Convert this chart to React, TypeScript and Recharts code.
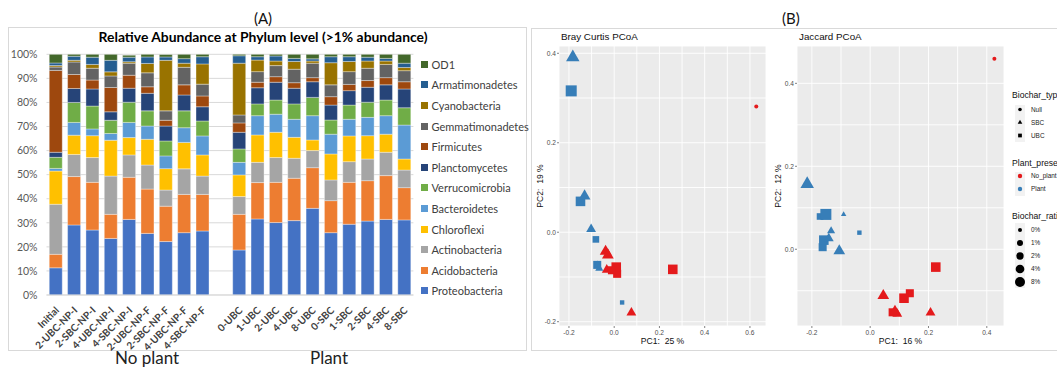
import React from 'react';
import { BarChart, Bar, XAxis, YAxis, CartesianGrid, ScatterChart, Scatter } from 'recharts';

// ---------- relative abundance (panel A) ----------
const SAMPLES = [
  'Initial', '2-UBC-NP-I', '2-SBC-NP-I', '4-UBC-NP-I', '4-SBC-NP-I',
  '2-UBC-NP-F', '2-SBC-NP-F', '4-UBC-NP-F', '4-SBC-NP-F',
  '0-UBC', '1-UBC', '2-UBC', '4-UBC', '8-UBC',
  '0-SBC', '1-SBC', '2-SBC', '4-SBC', '8-SBC',
];

const PHYLA = [
  'Proteobacteria', 'Acidobacteria', 'Actinobacteria', 'Chloroflexi',
  'Bacteroidetes', 'Verrucomicrobia', 'Planctomycetes', 'Firmicutes',
  'Gemmatimonadetes', 'Cyanobacteria', 'Armatimonadetes', 'OD1',
];

const PHYLUM_COLORS = [
  '#4472C4', '#ED7D31', '#A5A5A5', '#FFC000', '#5B9BD5', '#70AD47',
  '#264478', '#9E480E', '#636363', '#997300', '#255E91', '#43682B',
];

const proteobacteria = [11.3, 29.1, 27.0, 23.5, 31.4, 25.6, 22.2, 25.9, 26.6, 18.7, 31.6, 30.1, 30.9, 36.0, 25.9, 29.4, 30.7, 31.4, 31.2];
const acidobacteria = [5.6, 20.1, 19.8, 10.0, 17.5, 18.4, 14.7, 15.9, 15.2, 14.8, 15.1, 16.7, 17.6, 16.9, 13.3, 17.4, 16.8, 18.2, 13.4];
const actinobacteria = [20.8, 9.2, 10.3, 15.9, 9.3, 10.0, 6.7, 10.6, 7.6, 7.4, 8.4, 10.3, 8.3, 7.1, 8.6, 8.6, 9.0, 9.7, 7.3];
const chloroflexi = [13.8, 8.0, 9.1, 14.9, 7.2, 10.7, 8.9, 11.0, 8.8, 9.0, 11.4, 10.5, 8.7, 4.4, 10.8, 10.7, 9.7, 7.5, 4.6];
const bacteroidetes = [1.1, 5.3, 2.8, 2.8, 6.3, 5.5, 5.3, 6.1, 7.9, 5.2, 8.0, 7.5, 7.5, 10.1, 8.2, 6.9, 7.6, 7.7, 14.1];
const verrucomicrobia = [4.6, 8.3, 9.5, 5.5, 8.4, 6.3, 6.2, 7.0, 6.2, 5.6, 4.9, 5.9, 6.4, 7.6, 5.9, 5.9, 6.3, 6.5, 7.2];
const planctomycetes = [2.1, 5.8, 7.1, 3.5, 5.8, 7.3, 6.2, 6.6, 5.9, 6.9, 6.7, 7.4, 6.5, 6.5, 6.2, 6.0, 6.2, 6.3, 7.8];
const firmicutes = [34.0, 5.8, 3.7, 10.1, 5.4, 2.7, 2.4, 4.2, 4.5, 3.9, 2.3, 2.3, 2.3, 1.7, 3.5, 2.6, 2.8, 3.0, 3.0];
const gemmatimonadetes = [1.4, 5.2, 4.9, 4.8, 5.0, 5.8, 3.9, 7.3, 4.9, 3.3, 4.4, 4.6, 5.6, 6.0, 4.9, 5.3, 5.1, 5.5, 4.6];
const cyanobacteria = [0.6, 0.7, 1.6, 1.7, 0.6, 3.9, 21.0, 1.7, 8.4, 21.5, 4.8, 1.9, 3.2, 0.9, 9.2, 4.2, 3.0, 1.4, 1.3];
const armatimonadetes = [1.1, 1.7, 3.0, 4.8, 1.9, 2.7, 1.4, 1.9, 3.0, 3.1, 1.4, 2.1, 1.3, 0.9, 2.5, 2.0, 1.6, 1.1, 1.8];
const od1 = [3.7, 0.8, 1.4, 2.5, 0.8, 1.1, 1.0, 1.8, 1.0, 0.6, 1.0, 0.7, 1.7, 1.9, 1.0, 1.0, 1.2, 1.7, 3.7];

const ABUNDANCE = [
  proteobacteria, acidobacteria, actinobacteria, chloroflexi, bacteroidetes,
  verrucomicrobia, planctomycetes, firmicutes, gemmatimonadetes,
  cyanobacteria, armatimonadetes, od1,
];

const FIRST_PLANT_SAMPLE = 9;

// one empty slot separates the no-plant and plant groups
const barRows: any[] = [];
SAMPLES.forEach((name, i) => {
  if (i === FIRST_PLANT_SAMPLE) barRows.push({ sample: '' });
  const row: any = { sample: name };
  PHYLA.forEach((p, k) => { row[p] = ABUNDANCE[k][i]; });
  barRows.push(row);
});

const PCT_TICKS = [0, 10, 20, 30, 40, 50, 60, 70, 80, 90, 100];

// ---------- PCoA (panel B) ----------
const BIOCHAR_TYPE = ['Null', 'UBC', 'SBC', 'UBC', 'SBC', 'UBC', 'SBC', 'UBC', 'SBC', 'UBC', 'UBC', 'UBC', 'UBC', 'UBC', 'SBC', 'SBC', 'SBC', 'SBC', 'SBC'];
const PLANT_PRESENCE = ['No_plant', 'No_plant', 'No_plant', 'No_plant', 'No_plant', 'No_plant', 'No_plant', 'No_plant', 'No_plant', 'Plant', 'Plant', 'Plant', 'Plant', 'Plant', 'Plant', 'Plant', 'Plant', 'Plant', 'Plant'];
const BIOCHAR_RATIO = [0, 2, 2, 4, 4, 2, 2, 4, 4, 0, 1, 2, 4, 8, 0, 1, 2, 4, 8];

const BRAY_PC1 = [0.628, 0.013, -0.033, 0.009, -0.038, -0.010, 0.076, 0.259, -0.028, 0.035, -0.081, -0.075, -0.149, -0.190, -0.074, -0.066, -0.102, -0.131, -0.183];
const BRAY_PC2 = [0.281, -0.093, -0.084, -0.078, -0.043, -0.085, -0.180, -0.083, -0.051, -0.157, -0.016, -0.073, 0.069, 0.316, -0.070, -0.081, 0.007, 0.081, 0.391];
const JACC_PC1 = [0.426, 0.136, 0.207, 0.116, 0.045, 0.077, 0.093, 0.225, 0.085, -0.037, -0.172, -0.163, -0.159, -0.152, -0.091, -0.134, -0.142, -0.106, -0.216];
const JACC_PC2 = [0.459, -0.106, -0.153, -0.118, -0.112, -0.152, -0.156, -0.043, -0.150, 0.040, 0.079, 0.005, 0.022, 0.084, 0.084, 0.044, 0.026, -0.004, 0.157];

const PLANT_COLORS: Record<string, string> = { No_plant: '#E41A1C', Plant: '#377EB8' };
const RATIO_DIAMETER: Record<number, number> = { 0: 4, 1: 6, 2: 7.3, 4: 8.7, 8: 10 };
const RATIO_LEVELS = [0, 1, 2, 4, 8];

const pcoaRows = (pc1: number[], pc2: number[]) =>
  pc1.map((x, i) => ({
    x, y: pc2[i], type: BIOCHAR_TYPE[i], plant: PLANT_PRESENCE[i], ratio: BIOCHAR_RATIO[i],
  }));

const braySamples = pcoaRows(BRAY_PC1, BRAY_PC2);
const jaccSamples = pcoaRows(JACC_PC1, JACC_PC2);

function Marker(cx: number, cy: number, type: string, d: number, fill: string) {
  if (type === 'Null') return <circle cx={cx} cy={cy} r={d / 2} fill={fill} />;
  if (type === 'UBC') {
    const s = d * 1.1;
    return <rect x={cx - s / 2} y={cy - s / 2} width={s} height={s} fill={fill} />;
  }
  const w = d * 1.35;
  const h = w * 0.866;
  return <polygon points={`${cx},${cy - (h * 2) / 3} ${cx - w / 2},${cy + h / 3} ${cx + w / 2},${cy + h / 3}`} fill={fill} />;
}

const SamplePoint = (props: any) => {
  const { cx, cy, payload } = props;
  if (cx == null || cy == null) return null;
  return Marker(cx, cy, payload.type, RATIO_DIAMETER[payload.ratio], PLANT_COLORS[payload.plant]);
};

const SANS = '"Liberation Sans", Arial, sans-serif';
const LATO = 'Lato, "Open Sans", sans-serif';

const isMajor = (v: number) => Math.abs(Math.round(v * 10) % 2) === 0;
const fmt = (v: number) => (Math.abs(v) < 1e-9 ? '0.0' : v.toFixed(1));

const XTick = (props: any) => {
  const { x, y, payload } = props;
  if (!isMajor(payload.value)) return null;
  return (
    <g>
      <line x1={x} x2={x} y1={y} y2={y + 2} stroke="#333" strokeWidth={0.6} />
      <text x={x} y={y + 8.5} textAnchor="middle" fontSize={6.6} fill="#4D4D4D" fontFamily={SANS}>{fmt(payload.value)}</text>
    </g>
  );
};

const YTick = (props: any) => {
  const { x, y, payload } = props;
  if (!isMajor(payload.value)) return null;
  return (
    <g>
      <line x1={x - 2} x2={x} y1={y} y2={y} stroke="#333" strokeWidth={0.6} />
      <text x={x - 3} y={y + 2.3} textAnchor="end" fontSize={6.6} fill="#4D4D4D" fontFamily={SANS}>{fmt(payload.value)}</text>
    </g>
  );
};

interface PcoaProps {
  left: number;
  title: string;
  xLabel: string;
  yLabel: string;
  samples: any[];
  xDomain: [number, number];
  yDomain: [number, number];
  xTicks: number[];
  yTicks: number[];
}

const PcoaPlot: React.FC<PcoaProps> = ({ left, title, xLabel, yLabel, samples, xDomain, yDomain, xTicks, yTicks }) => (
  <div style={{ position: 'absolute', left, top: 28, width: 240, height: 322 }}>
    <ScatterChart width={240} height={322} margin={{ top: 18, right: 6, bottom: 0, left: 0 }}>
      <CartesianGrid fill="#EBEBEB" stroke="#FFFFFF" strokeWidth={0.9} />
      <XAxis type="number" dataKey="x" domain={xDomain} ticks={xTicks} interval={0} allowDataOverflow
        height={24} axisLine={false} tickLine={false} tickSize={0} tickMargin={0} tick={<XTick />} />
      <YAxis type="number" dataKey="y" domain={yDomain} ticks={yTicks} interval={0} allowDataOverflow
        width={27} axisLine={false} tickLine={false} tickSize={0} tickMargin={0} tick={<YTick />} />
      <Scatter data={samples} shape={SamplePoint} isAnimationActive={false} />
    </ScatterChart>
    <div style={{ position: 'absolute', left: 29, top: 2.5, fontSize: 9.8, fontFamily: SANS, color: '#111', whiteSpace: 'nowrap' }}>{title}</div>
    <div style={{ position: 'absolute', left: 27, width: 207, top: 308, textAlign: 'center', fontSize: 8.6, fontFamily: SANS, color: '#111', whiteSpace: 'pre' }}>{xLabel}</div>
    <div style={{ position: 'absolute', left: 8, top: 158, width: 0, height: 0 }}>
      <div style={{ position: 'absolute', transform: 'translate(-50%, -50%) rotate(-90deg)', fontSize: 8.6, fontFamily: SANS, color: '#111', whiteSpace: 'pre' }}>{yLabel}</div>
    </div>
  </div>
);

const PcoaLegend = () => {
  const lx = 5;
  const title = (y: number, t: string) => (
    <text x={2} y={y} fontSize={8.6} fontFamily={SANS} fill="#111">{t}</text>
  );
  const label = (y: number, t: string) => (
    <text x={21} y={y + 2.3} fontSize={6.4} fontFamily={SANS} fill="#222">{t}</text>
  );
  const types = ['Null', 'SBC', 'UBC'];
  const plants = ['No_plant', 'Plant'];
  return (
    <svg style={{ position: 'absolute', left: 1010, top: 80, overflow: 'visible' }} width={47} height={215}>
      {title(18, 'Biochar_type')}
      <rect x={lx} y={25} width={10} height={37} fill="#F2F2F2" />
      {types.map((t, i) => (
        <g key={t}>
          {Marker(lx + 5, 29.5 + i * 13, t, t === 'Null' ? 3.6 : 3.4, '#000')}
          {label(29.5 + i * 13, t)}
        </g>
      ))}
      {title(85.5, 'Plant_presence')}
      <rect x={lx} y={92} width={10} height={24} fill="#F2F2F2" />
      {plants.map((p, i) => (
        <g key={p}>
          <circle cx={lx + 5} cy={96 + i * 13} r={2.2} fill={PLANT_COLORS[p]} />
          {label(96 + i * 13, p)}
        </g>
      ))}
      {title(138.5, 'Biochar_ratio')}
      <rect x={lx} y={143} width={10} height={65} fill="#F2F2F2" />
      {RATIO_LEVELS.map((r, i) => (
        <g key={r}>
          <circle cx={lx + 5} cy={150 + i * 13} r={RATIO_DIAMETER[r] / 2} fill="#000" />
          {label(150 + i * 13, `${r}%`)}
        </g>
      ))}
    </svg>
  );
};

const SampleTick = (props: any) => {
  const { x, y, payload } = props;
  const ax = x + 4;
  const ay = y + 8;
  return (
    <text x={ax} y={ay} transform={`rotate(-45, ${ax}, ${ay})`} textAnchor="end"
      fontSize={10} fontWeight={700} fill="#404040" fontFamily={LATO}>{payload.value}</text>
  );
};

const App = () => {
  const legendOrder = PHYLA.map((p, i) => ({ name: p, color: PHYLUM_COLORS[i] })).reverse();
  return (
    <div style={{ position: 'absolute', left: 0, top: 0, width: 1057, height: 369, background: '#fff', overflow: 'hidden' }}>
      {/* panel A */}
      <div style={{ position: 'absolute', left: 0, top: 9, width: 526, textAlign: 'center', fontFamily: LATO, fontSize: 15, color: '#111' }}>(A)</div>
      <div style={{ position: 'absolute', left: 8, top: 27, width: 517, height: 322, border: '1px solid #D9D9D9' }} />
      <div style={{ position: 'absolute', left: 8, top: 27.5, width: 510, textAlign: 'center', fontFamily: LATO, fontSize: 13.9, fontWeight: 700, color: '#000' }}>
        Relative Abundance at Phylum level (&gt;1% abundance)
      </div>
      <div style={{ position: 'absolute', left: 8, top: 27 }}>
        <BarChart width={518} height={342} data={barRows} barCategoryGap="15%"
          margin={{ top: 27.3, right: 112.6, bottom: 0, left: 0 }}>
          <CartesianGrid vertical={false} stroke="#D9D9D9" />
          <XAxis dataKey="sample" interval={0} height={74} tickLine={false} axisLine={{ stroke: '#D9D9D9' }} tick={<SampleTick />} />
          <YAxis domain={[0, 100]} ticks={PCT_TICKS} allowDataOverflow width={38.5} axisLine={false} tickLine={false}
            tickSize={0} tickMargin={9} tickFormatter={(v: number) => `${v}%`}
            tick={{ fontSize: 10.5, fill: '#595959', fontFamily: LATO }} />
          {PHYLA.map((p, i) => (
            <Bar key={p} dataKey={p} stackId="abund" fill={PHYLUM_COLORS[i]} stroke="#fff" strokeWidth={0.5} strokeOpacity={0.7} isAnimationActive={false} />
          ))}
        </BarChart>
      </div>
      <div style={{ position: 'absolute', left: 421, top: 54 }}>
        {legendOrder.map((item) => (
          <div key={item.name} style={{ height: 20.6, display: 'flex', alignItems: 'center', fontFamily: LATO, fontSize: 11, color: '#404040', whiteSpace: 'nowrap' }}>
            <span style={{ display: 'inline-block', width: 7, height: 7, background: item.color, marginRight: 3.5 }} />
            {item.name}
          </div>
        ))}
      </div>
      <div style={{ position: 'absolute', left: 115, top: 348, lineHeight: '19px', fontFamily: LATO, fontSize: 17, color: '#222' }}>No plant</div>
      <div style={{ position: 'absolute', left: 310, top: 348, lineHeight: '19px', fontFamily: LATO, fontSize: 17, color: '#222' }}>Plant</div>

      {/* panel B */}
      <div style={{ position: 'absolute', left: 782, top: 9, fontFamily: LATO, fontSize: 15, color: '#111' }}>(B)</div>
      <div style={{ position: 'absolute', left: 531, top: 28, width: 540, height: 321, border: '1px solid #D9D9D9' }} />
      <PcoaPlot left={532} title="Bray Curtis PCoA" xLabel="PC1:  25 %" yLabel="PC2:  19 %" samples={braySamples}
        xDomain={[-0.244, 0.671]} yDomain={[-0.2096, 0.4163]}
        xTicks={[-0.2, -0.1, 0, 0.1, 0.2, 0.3, 0.4, 0.5, 0.6]} yTicks={[-0.2, -0.1, 0, 0.1, 0.2, 0.3, 0.4]} />
      <PcoaPlot left={770} title="Jaccard PCoA" xLabel="PC1:  16 %" yLabel="PC2:  12 %" samples={jaccSamples}
        xDomain={[-0.251, 0.459]} yDomain={[-0.185, 0.49]}
        xTicks={[-0.2, -0.1, 0, 0.1, 0.2, 0.3, 0.4]} yTicks={[-0.1, 0, 0.1, 0.2, 0.3, 0.4]} />
      <PcoaLegend />
    </div>
  );
};

export default App;
